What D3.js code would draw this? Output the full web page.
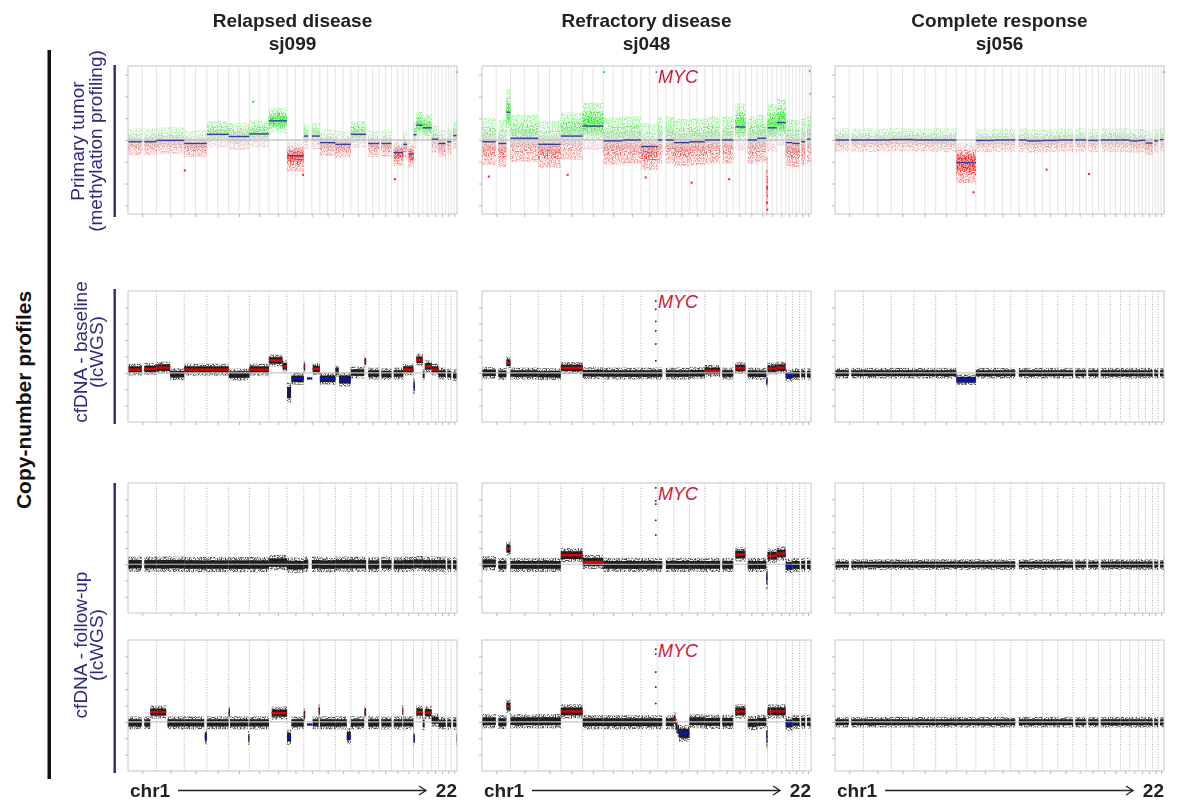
<!DOCTYPE html>
<html>
<head>
<meta charset="utf-8">
<script src="https://cdn.jsdelivr.net/npm/d3@7"></script>
<style>
  body { margin: 0; background: #fff; }
  svg text { font-family: "Liberation Sans", Arial, sans-serif; }
</style>
</head>
<body>
<svg id="fig" width="1178" height="806"></svg>
<script>
// hg19 chromosome lengths (Mb), chr1..chr22
const chromLengths = [249.25, 243.2, 198.02, 191.15, 180.92, 171.12, 159.14, 146.36, 141.21, 135.53, 135.01,
                      133.85, 115.17, 107.35, 102.53, 90.35, 81.2, 78.08, 59.13, 63.03, 48.13, 51.3];

const columnTitles = [["Relapsed disease", "sj099"], ["Refractory disease", "sj048"], ["Complete response", "sj056"]];
const rowLabels = [["Primary tumor", "(methylation profiling)"], ["cfDNA - baseline", "(lcWGS)"], ["cfDNA - follow-up", "(lcWGS)"]];

// methylation segments: [chr, startMb, endMb, log2 ratio, spread?]
const sj099Tumor = [
  [1,0,121,-0.02],[1,143,249,-0.02],[2,0,243,-0.005],[3,0,198,-0.04],[4,0,191,0.065],[5,0,181,0.04],
  [6,0,171,0.07],[7,0,159,0.22],[8,0,146,-0.18,0.1],[9,0,39,0.045],[9,71,141,0.045],[10,0,136,-0.03],
  [11,0,135,-0.05],[12,0,134,0.065],[13,19,115,-0.04],[14,19,107,-0.04],[15,20,103,-0.145],
  [16,0,35,-0.05],[16,46,90,-0.16],[17,0,25,0.06],[17,25,81,0.17],[18,0,78,0.14],[19,0,59,0.01],
  [20,0,63,-0.04],[21,14,48,-0.02],[22,16,51,0.05]
];
const sj048Tumor = [
  [1,0,121,-0.02],[1,143,214,-0.04],[1,214,249,0.32],[2,0,243,0.02],[3,0,198,-0.05],[4,0,191,0.045],
  [5,0,181,0.16],[6,0,171,-0.01],[7,0,159,0],[8,0,127,-0.075],[8,127,130,0.78,0],[8,130,146,-0.075],
  [9,0,39,0],[9,71,141,0],[10,0,136,-0.03],[11,0,135,-0.02],[12,0,134,0],[13,19,115,0],[14,19,107,0.15],
  [15,20,103,0],[16,0,80,0.02],[16,80,90,-0.55,0.2],[17,0,81,0.14],[18,0,78,0.2],[19,0,59,-0.03],
  [20,0,63,-0.04],[21,14,48,-0.02],[22,16,51,0.01]
];
const sj056Tumor = [
  [1,0,121,0],[1,143,249,0],[2,0,243,0],[3,0,198,0.005],[4,0,191,0],[5,0,181,0],[6,0,171,-0.26,0.13],
  [7,0,159,-0.005],[8,0,146,0],[9,0,39,0],[9,71,141,0],[10,0,136,-0.01],[11,0,135,-0.005],[12,0,134,0],
  [13,19,115,0],[14,19,107,-0.005],[15,20,103,0],[16,0,90,0],[17,0,81,0],[18,0,78,-0.01],[19,0,59,-0.005],
  [20,0,63,-0.035],[21,14,48,-0.01],[22,16,51,0.005]
];
// single probes far from the cloud: [chr, posMb, log2 ratio]
const sj099TumorOutliers = [[6,35,0.44],[3,5,-0.35],[8,140,-0.4],[15,30,-0.45],[22,49,0.78],[7,90,0.3]];
const sj048TumorOutliers = [[6,5,0.78],[1,60,-0.42],[8,40,-0.43],[11,20,-0.49],[16,88,-0.8],[16,86,-0.72],
                            [22,40,0.79],[22,45,0.53],[4,60,-0.4],[13,80,-0.45]];
const sj056TumorOutliers = [[22,49,0.78],[11,37,-0.34],[14,25,-0.39],[6,150,-0.6]];

// lcWGS segments: [chr, startMb, endMb, log2 ratio, call (1 gain, -1 loss, 0 neutral), spread?]
const sj099Baseline = [
  [1,0,121,0.1,1],[1,143,249,0.12,1],[2,0,120,0.16,1],[2,120,243,-0.04,0],[3,0,198,0.1,1],[4,0,191,0.1,1],
  [5,0,181,-0.05,0],[6,0,171,0.1,1],[7,0,120,0.38,1],[7,120,159,0.2,1],[8,0,35,-0.6,-1,0.17],
  [8,38,146,-0.18,-1],[9,0,12,0.18,1],[9,28,75,-0.17,-1,0],[9,78,141,0.12,1],[10,0,136,-0.18,-1],
  [11,0,30,0.05,0],[11,32,135,-0.2,-1,0.12],[12,0,118,0.01,0],[12,120,134,0.35,1],[13,19,115,-0.02,0],
  [14,19,107,-0.04,0],[15,20,103,-0.02,0],[16,0,90,0.1,1],[17,0,12,-0.4,-1,0.14],[17,25,81,0.4,1],
  [18,0,15,-0.05,0],[18,18,78,0.2,1],[19,0,59,0.1,1],[20,0,63,-0.02,0],[21,14,48,-0.04,0],[22,16,51,-0.07,0]
];
const sj048Baseline = [
  [1,0,121,0,0],[1,143,214,-0.03,0],[1,214,249,0.31,1],[2,0,243,-0.02,0],[3,0,198,-0.04,0],[4,0,191,0.15,1],
  [5,0,181,-0.01,0],[6,0,171,-0.02,0],[7,0,159,-0.02,0],[8,0,146,-0.02,0],[9,0,39,-0.02,0],[9,71,141,-0.02,0],
  [10,0,136,-0.02,0],[11,0,135,-0.01,0],[12,0,134,0.06,1],[13,19,115,-0.02,0],[14,19,107,0.15,1],
  [15,20,103,-0.02,0],[16,0,80,-0.03,0],[16,80,90,-0.25,-1],[17,0,22,0.13,1],[17,25,81,0.13,1],
  [18,0,78,0.16,1],[19,0,59,-0.08,-1],[20,0,63,-0.04,0],[21,14,48,-0.03,0],[22,16,51,-0.04,0]
];
const sj056Baseline = [
  [1,0,121,-0.01,0],[1,143,249,-0.01,0],[2,0,243,-0.01,0],[3,0,198,-0.01,0],[4,0,191,-0.01,0],
  [5,0,181,-0.01,0],[6,0,171,-0.21,-1],[7,0,159,-0.01,0],[8,0,146,-0.01,0],[9,0,39,-0.01,0],[9,71,141,-0.01,0],
  [10,0,136,-0.01,0],[11,0,135,-0.01,0],[12,0,134,-0.01,0],[13,19,115,-0.01,0],[14,19,107,-0.01,0],
  [15,20,103,-0.01,0],[16,0,90,-0.01,0],[17,0,81,-0.01,0],[18,0,78,-0.01,0],[19,0,59,-0.01,0],
  [20,0,63,-0.01,0],[21,14,48,-0.01,0],[22,16,51,-0.01,0]
];
const sj099Follow1 = [
  [1,0,121,0,0],[1,143,249,0,0],[2,0,243,0,0],[3,0,198,-0.01,0],[4,0,191,-0.01,0],[5,0,181,-0.01,0],
  [6,0,171,-0.01,0],[7,0,159,0.05,0],[8,0,146,-0.03,0],[9,0,39,0,0],[9,71,141,0,0],[10,0,136,-0.01,0],
  [11,0,135,0,0],[12,0,134,0,0],[13,19,115,-0.01,0],[14,19,107,0,0],[15,20,103,-0.01,0],[16,0,90,0,0],
  [17,0,81,0.02,0],[18,0,78,0,0],[19,0,59,0,0],[20,0,63,0,0],[21,14,48,-0.01,0],[22,16,51,-0.01,0]
];
const sj048Follow1 = [
  [1,0,121,0.03,0],[1,143,214,-0.02,0],[1,214,249,0.48,1],[2,0,243,-0.02,0],[3,0,198,-0.02,0],
  [4,0,191,0.28,1],[5,0,181,0.07,1],[6,0,171,-0.02,0],[7,0,159,-0.02,0],[8,0,146,-0.02,0],[9,0,39,-0.02,0],
  [9,71,141,-0.02,0],[10,0,136,-0.02,0],[11,0,135,-0.02,0],[12,0,134,-0.02,0],[13,19,115,-0.02,0],
  [14,19,107,0.3,1],[15,20,103,-0.02,0],[16,0,80,-0.02,0],[16,80,90,-0.42,-1,0.2],[17,0,22,0.26,1],
  [17,25,81,0.26,1],[18,0,78,0.33,1],[19,0,59,-0.05,-1],[20,0,63,-0.02,0],[21,14,48,-0.02,0],[22,16,51,-0.02,0]
];
const sj056Follow1 = [
  [1,0,121,-0.01,0],[1,143,249,-0.01,0],[2,0,243,-0.01,0],[3,0,198,-0.01,0],[4,0,191,-0.01,0],
  [5,0,181,-0.01,0],[6,0,171,-0.01,0],[7,0,159,-0.01,0],[8,0,146,-0.01,0],[9,0,39,-0.01,0],[9,71,141,-0.01,0],
  [10,0,136,-0.01,0],[11,0,135,-0.01,0],[12,0,134,-0.01,0],[13,19,115,-0.01,0],[14,19,107,-0.01,0],
  [15,20,103,-0.01,0],[16,0,90,-0.01,0],[17,0,81,-0.01,0],[18,0,78,-0.01,0],[19,0,59,-0.01,0],
  [20,0,63,-0.01,0],[21,14,48,-0.01,0],[22,16,51,-0.01,0]
];
const sj099Follow2 = [
  [1,0,121,-0.03,0],[1,143,195,-0.03,0],[1,195,249,0.3,1],[2,0,85,0.3,1],[2,96,243,-0.03,0],
  [3,0,175,-0.03,0],[3,180,198,-0.45,-1,0.13],[4,0,191,-0.03,0],[5,0,10,0.28,1],[5,12,172,-0.03,0],
  [5,172,181,-0.5,-1,0.13],[6,0,171,-0.03,0],[7,25,159,0.27,1],[8,0,35,-0.47,-1,0.13],[8,38,146,-0.03,0],
  [9,0,12,0.22,1],[9,28,75,-0.08,-1,0],[9,78,130,-0.03,0],[9,130,141,0.33,1],[10,0,136,-0.03,0],
  [11,0,100,-0.03,0],[11,100,135,-0.43,-1,0.13],[12,0,118,-0.03,0],[12,120,134,0.3,1],[13,19,115,-0.03,0],
  [14,19,107,-0.03,0],[15,20,95,-0.03,0],[15,95,103,0.32,1],[16,0,90,-0.03,0],[17,0,12,-0.5,-1,0.13],
  [17,25,81,0.3,1],[18,0,15,-0.05,0],[18,18,78,0.28,1],[19,0,59,0.05,0],[20,0,63,-0.04,0],
  [21,14,48,-0.04,0],[22,16,47,-0.04,0],[22,47,51,-0.5,-1,0.13]
];
const sj048Follow2 = [
  [1,0,121,0.02,0],[1,143,214,-0.01,0],[1,214,249,0.47,1],[2,0,243,0.02,0],[3,0,198,0.02,0],
  [4,0,191,0.32,1],[5,0,181,-0.01,0],[6,0,171,-0.01,0],[7,0,159,-0.01,0],[8,0,146,-0.01,0],
  [9,0,39,-0.01,0],[9,71,141,-0.01,0],[10,0,15,0.07,1],[10,15,30,-0.12,0],[10,30,45,-0.25,-1],
  [10,45,136,-0.35,-1,0.14],[11,0,135,0.02,0],[12,0,134,0,0],[13,19,115,0,0],[14,19,107,0.32,1],
  [15,20,103,-0.03,0],[16,0,80,0,0],[16,80,90,-0.45,-1,0.2],[17,0,22,0.32,1],[17,25,81,0.32,1],
  [18,0,78,0.32,1],[19,0,59,-0.05,-1],[20,0,63,0,0],[21,14,48,0,0],[22,16,51,0,0]
];
const sj056Follow2 = [
  [1,0,121,-0.01,0],[1,143,249,-0.01,0],[2,0,243,-0.01,0],[3,0,198,-0.01,0],[4,0,191,-0.01,0],
  [5,0,181,-0.01,0],[6,0,171,-0.01,0],[7,0,159,-0.01,0],[8,0,146,-0.01,0],[9,0,39,-0.01,0],[9,71,141,-0.01,0],
  [10,0,136,-0.01,0],[11,0,135,-0.01,0],[12,0,134,-0.01,0],[13,19,115,-0.01,0],[14,19,107,-0.01,0],
  [15,20,103,-0.01,0],[16,0,90,-0.01,0],[17,0,81,-0.01,0],[18,0,78,-0.01,0],[19,0,59,-0.01,0],
  [20,0,63,-0.01,0],[21,14,48,-0.01,0],[22,16,51,-0.01,0]
];
// MYC bins (chr8 128.7 Mb) in the sj048 lcWGS profiles
const mycPos = 128.7;
const mycBaseline = [2.19, 1.94, 1.57, 1.28, 0.88, 0.37];
const mycFollow1 = [2.35, 1.95, 1.85, 1.35, 0.9];
const mycFollow2 = [2.22, 2.07, 1.52, 1.06, 0.56];

const methTicks = [-0.75, -0.5, -0.25, 0, 0.25, 0.5, 0.75];
const cfTicks = [-1, -0.5, 0, 0.5, 1, 1.5, 2];

// ---------------- layout ----------------
const svg = d3.select("#fig");
const colLeft = [128, 482, 835], panelW = 329;
const rowTop = [66, 291, 483, 640], rowH = [148, 131, 130, 131];
const navy = "#2b2a7c";

const genome = d3.sum(chromLengths);
const chromStart = [0, ...d3.cumsum(chromLengths)].slice(0, 22);
const chromMid = chromLengths.map((l, i) => chromStart[i] + l / 2);
const x = d3.scaleLinear().domain([0, genome]).range([0, panelW]);
const gx = (c, mb) => x(chromStart[c - 1] + mb);

const methColor = d3.scaleLinear().domain([-0.2, 0, 0.2])
  .range(["#ff1a1a", "#d0d0d0", "#22ee22"]).clamp(true);
const yMeth = d3.scaleLinear().domain([-0.85, 0.85]).range([rowH[0], 0]);

const defs = svg.append("defs");
// vertical colour ramp for methylation probes (green up, red down)
const grad = defs.append("linearGradient").attr("id", "methGrad")
  .attr("gradientUnits", "userSpaceOnUse")
  .attr("x1", 0).attr("x2", 0).attr("y1", 0).attr("y2", rowH[0]);
[0.85, 0.2, 0.12, 0.05, 0, -0.05, -0.12, -0.2, -0.85].forEach(v => {
  grad.append("stop").attr("offset", yMeth(v) / rowH[0]).attr("stop-color", methColor(v));
});
// grainy texture so the probe clouds read as dots rather than flat boxes
const speck = defs.append("filter").attr("id", "speck").attr("filterUnits", "userSpaceOnUse")
  .attr("x", 0).attr("y", 0).attr("width", panelW).attr("height", 150);
speck.append("feTurbulence").attr("type", "fractalNoise").attr("baseFrequency", 0.75)
  .attr("numOctaves", 1).attr("seed", 4).attr("result", "noise");
speck.append("feColorMatrix").attr("in", "noise").attr("type", "matrix")
  .attr("values", "0 0 0 0 0  0 0 0 0 0  0 0 0 0 0  5 0 0 0 -2.1").attr("result", "mask");
speck.append("feComposite").attr("in", "SourceGraphic").attr("in2", "mask").attr("operator", "in");

const panels = [
  {r: 0, c: 0, kind: "meth", segs: sj099Tumor, spread: 0.085, out: sj099TumorOutliers},
  {r: 0, c: 1, kind: "meth", segs: sj048Tumor, spread: 0.15, out: sj048TumorOutliers, myc: true},
  {r: 0, c: 2, kind: "meth", segs: sj056Tumor, spread: 0.075, out: sj056TumorOutliers},
  {r: 1, c: 0, kind: "cf", segs: sj099Baseline, spread: 0.1},
  {r: 1, c: 1, kind: "cf", segs: sj048Baseline, spread: 0.1, mycBins: mycBaseline, myc: true},
  {r: 1, c: 2, kind: "cf", segs: sj056Baseline, spread: 0.09},
  {r: 2, c: 0, kind: "cf", segs: sj099Follow1, spread: 0.13},
  {r: 2, c: 1, kind: "cf", segs: sj048Follow1, spread: 0.12, mycBins: mycFollow1, myc: true},
  {r: 2, c: 2, kind: "cf", segs: sj056Follow1, spread: 0.09},
  {r: 3, c: 0, kind: "cf", segs: sj099Follow2, spread: 0.11},
  {r: 3, c: 1, kind: "cf", segs: sj048Follow2, spread: 0.12, mycBins: mycFollow2, myc: true},
  {r: 3, c: 2, kind: "cf", segs: sj056Follow2, spread: 0.09}
];
const mycBaselineY = [83, 308, 500, 657];

panels.forEach(p => {
  const h = rowH[p.r];
  const g = svg.append("g").attr("transform", `translate(${colLeft[p.c]},${rowTop[p.r]})`);
  const y = p.kind === "meth" ? yMeth : d3.scaleLinear().domain([-1.5, 2.5]).range([h, 0]);

  // chromosome separators
  if (p.kind === "meth") {
    g.selectAll(".vl").data(chromStart.slice(1).concat(chromMid)).join("line")
      .attr("x1", d => x(d)).attr("x2", d => x(d)).attr("y1", 0).attr("y2", h)
      .attr("stroke", "#e2e2e2").attr("stroke-width", 0.9);
  } else {
    g.selectAll(".vl").data(chromStart.slice(1)).join("line")
      .attr("x1", d => x(d)).attr("x2", d => x(d)).attr("y1", 0).attr("y2", h)
      .attr("stroke", "#9a9a9a").attr("stroke-width", 0.8).attr("stroke-dasharray", "1,1.6");
  }

  const sp = d => (p.kind === "meth" ? d[4] : d[5]) ?? p.spread;
  const withCloud = p.segs.filter(d => sp(d) > 0);
  const band = (sel, k) => sel
    .attr("x", d => gx(d[0], d[1])).attr("width", d => gx(d[0], d[2]) - gx(d[0], d[1]))
    .attr("y", d => y(d[3] + k * sp(d))).attr("height", d => y(d[3] - k * sp(d)) - y(d[3] + k * sp(d)));

  if (p.kind === "meth") {
    const cloud = g.append("g").attr("filter", "url(#speck)");
    [[1.8, 0.45], [1.1, 0.7], [0.5, 0.95]].forEach(([k, op]) => {
      cloud.append("g").selectAll("rect").data(withCloud).join("rect")
        .call(band, k).attr("fill", "url(#methGrad)").attr("opacity", op);
    });
    g.append("g").attr("opacity", 0.35).selectAll("rect").data(withCloud).join("rect")
      .call(band, 0.7).attr("fill", "url(#methGrad)");
    g.append("line").attr("x1", 0).attr("x2", panelW).attr("y1", y(0)).attr("y2", y(0))
      .attr("stroke", "#b0b0b0").attr("stroke-width", 1.2);
    g.append("g").selectAll("line").data(p.segs).join("line")
      .attr("x1", d => gx(d[0], d[1])).attr("x2", d => Math.max(gx(d[0], d[2]), gx(d[0], d[1]) + 1.5))
      .attr("y1", d => y(d[3])).attr("y2", d => y(d[3]))
      .attr("stroke", "#3c3c9c").attr("stroke-width", 1.4);
    g.append("g").selectAll("rect").data(p.out).join("rect")
      .attr("x", d => gx(d[0], d[1]) - 1).attr("y", d => y(d[2]) - 1)
      .attr("width", 2).attr("height", 2).attr("fill", d => methColor(d[2]));
  } else {
    g.append("g").attr("filter", "url(#speck)").selectAll("rect").data(withCloud).join("rect")
      .call(band, 1.8).attr("fill", "#222").attr("opacity", 0.8);
    g.append("g").selectAll("rect").data(withCloud).join("rect")
      .call(band, 1).attr("fill", "#111").attr("opacity", 0.92);
    g.append("line").attr("x1", 0).attr("x2", panelW).attr("y1", y(0)).attr("y2", y(0))
      .attr("stroke", "#c4c4c4").attr("stroke-width", 1.2);
    g.append("g").selectAll("line").data(p.segs.filter(d => d[4] !== 0)).join("line")
      .attr("x1", d => gx(d[0], d[1])).attr("x2", d => gx(d[0], d[2]))
      .attr("y1", d => y(d[3])).attr("y2", d => y(d[3]))
      .attr("stroke", d => d[4] > 0 ? "#e00000" : "#0010e0").attr("stroke-width", 2.4);
    if (p.mycBins) {
      g.append("g").selectAll("rect").data(p.mycBins).join("rect")
        .attr("x", gx(8, mycPos) - 0.8).attr("y", d => y(d) - 0.8)
        .attr("width", 1.6).attr("height", 1.6).attr("fill", "#222");
    }
  }

  // frame and ticks
  g.append("rect").attr("width", panelW).attr("height", h)
    .attr("fill", "none").attr("stroke", "#c6c6c6").attr("stroke-width", 1);
  const ya = g.append("g").call(d3.axisLeft(y).tickValues(p.kind === "meth" ? methTicks : cfTicks)
    .tickSize(3).tickFormat(""));
  const xa = g.append("g").attr("transform", `translate(0,${h})`)
    .call(d3.axisBottom(x).tickValues(chromMid).tickSize(3).tickFormat(""));
  [ya, xa].forEach(a => {
    a.select(".domain").remove();
    a.selectAll("line").attr("stroke", "#a8a8a8").attr("stroke-width", 0.8);
  });

  if (p.myc) {
    svg.append("text").attr("x", 658).attr("y", mycBaselineY[p.r])
      .attr("font-size", 18).attr("font-style", "italic").attr("fill", "#cc1a36").text("MYC");
  }
});

// column titles
columnTitles.forEach((t, i) => {
  const cx = colLeft[i] + panelW / 2;
  t.forEach((line, j) => {
    svg.append("text").attr("x", cx).attr("y", 27 + j * 23).attr("text-anchor", "middle")
      .attr("font-size", 19).attr("font-weight", "bold").attr("fill", "#222").text(line);
  });
});

// big left label and bar
svg.append("rect").attr("x", 47.5).attr("y", 50).attr("width", 3.5).attr("height", 729).attr("fill", "#111");
svg.append("text").attr("transform", "translate(31,400) rotate(-90)").attr("text-anchor", "middle")
  .attr("font-size", 21).attr("font-weight", "bold").attr("fill", "#111").text("Copy-number profiles");

// row labels with navy bars
const labelSpans = [[65, 217, 141, 83.5, 102], [289, 424, 352, 86.5, 103], [483, 773, 645, 86.5, 103]];
rowLabels.forEach((lab, i) => {
  const [y0, y1, cy, b1, b2] = labelSpans[i];
  svg.append("rect").attr("x", 113.5).attr("y", y0).attr("width", 2.4).attr("height", y1 - y0).attr("fill", navy);
  [b1, b2].forEach((bx, j) => {
    svg.append("text").attr("transform", `translate(${bx},${cy}) rotate(-90)`).attr("text-anchor", "middle")
      .attr("font-size", 19).attr("fill", navy).text(lab[j]);
  });
});

// chr1 -> 22 axis captions
colLeft.forEach(x0 => {
  const yb = 797, ya = 790.5;
  svg.append("text").attr("x", x0 + 2).attr("y", yb).attr("font-size", 19).attr("font-weight", "bold")
    .attr("fill", "#222").text("chr1");
  svg.append("line").attr("x1", x0 + 50).attr("x2", x0 + 298).attr("y1", ya).attr("y2", ya)
    .attr("stroke", "#222").attr("stroke-width", 1.3);
  svg.append("path").attr("d", `M${x0 + 291},${ya - 4.5}L${x0 + 298},${ya}L${x0 + 291},${ya + 4.5}`)
    .attr("fill", "none").attr("stroke", "#222").attr("stroke-width", 1.3);
  svg.append("text").attr("x", x0 + panelW).attr("y", yb).attr("text-anchor", "end").attr("font-size", 19)
    .attr("font-weight", "bold").attr("fill", "#222").text("22");
});
</script>
</body>
</html>
